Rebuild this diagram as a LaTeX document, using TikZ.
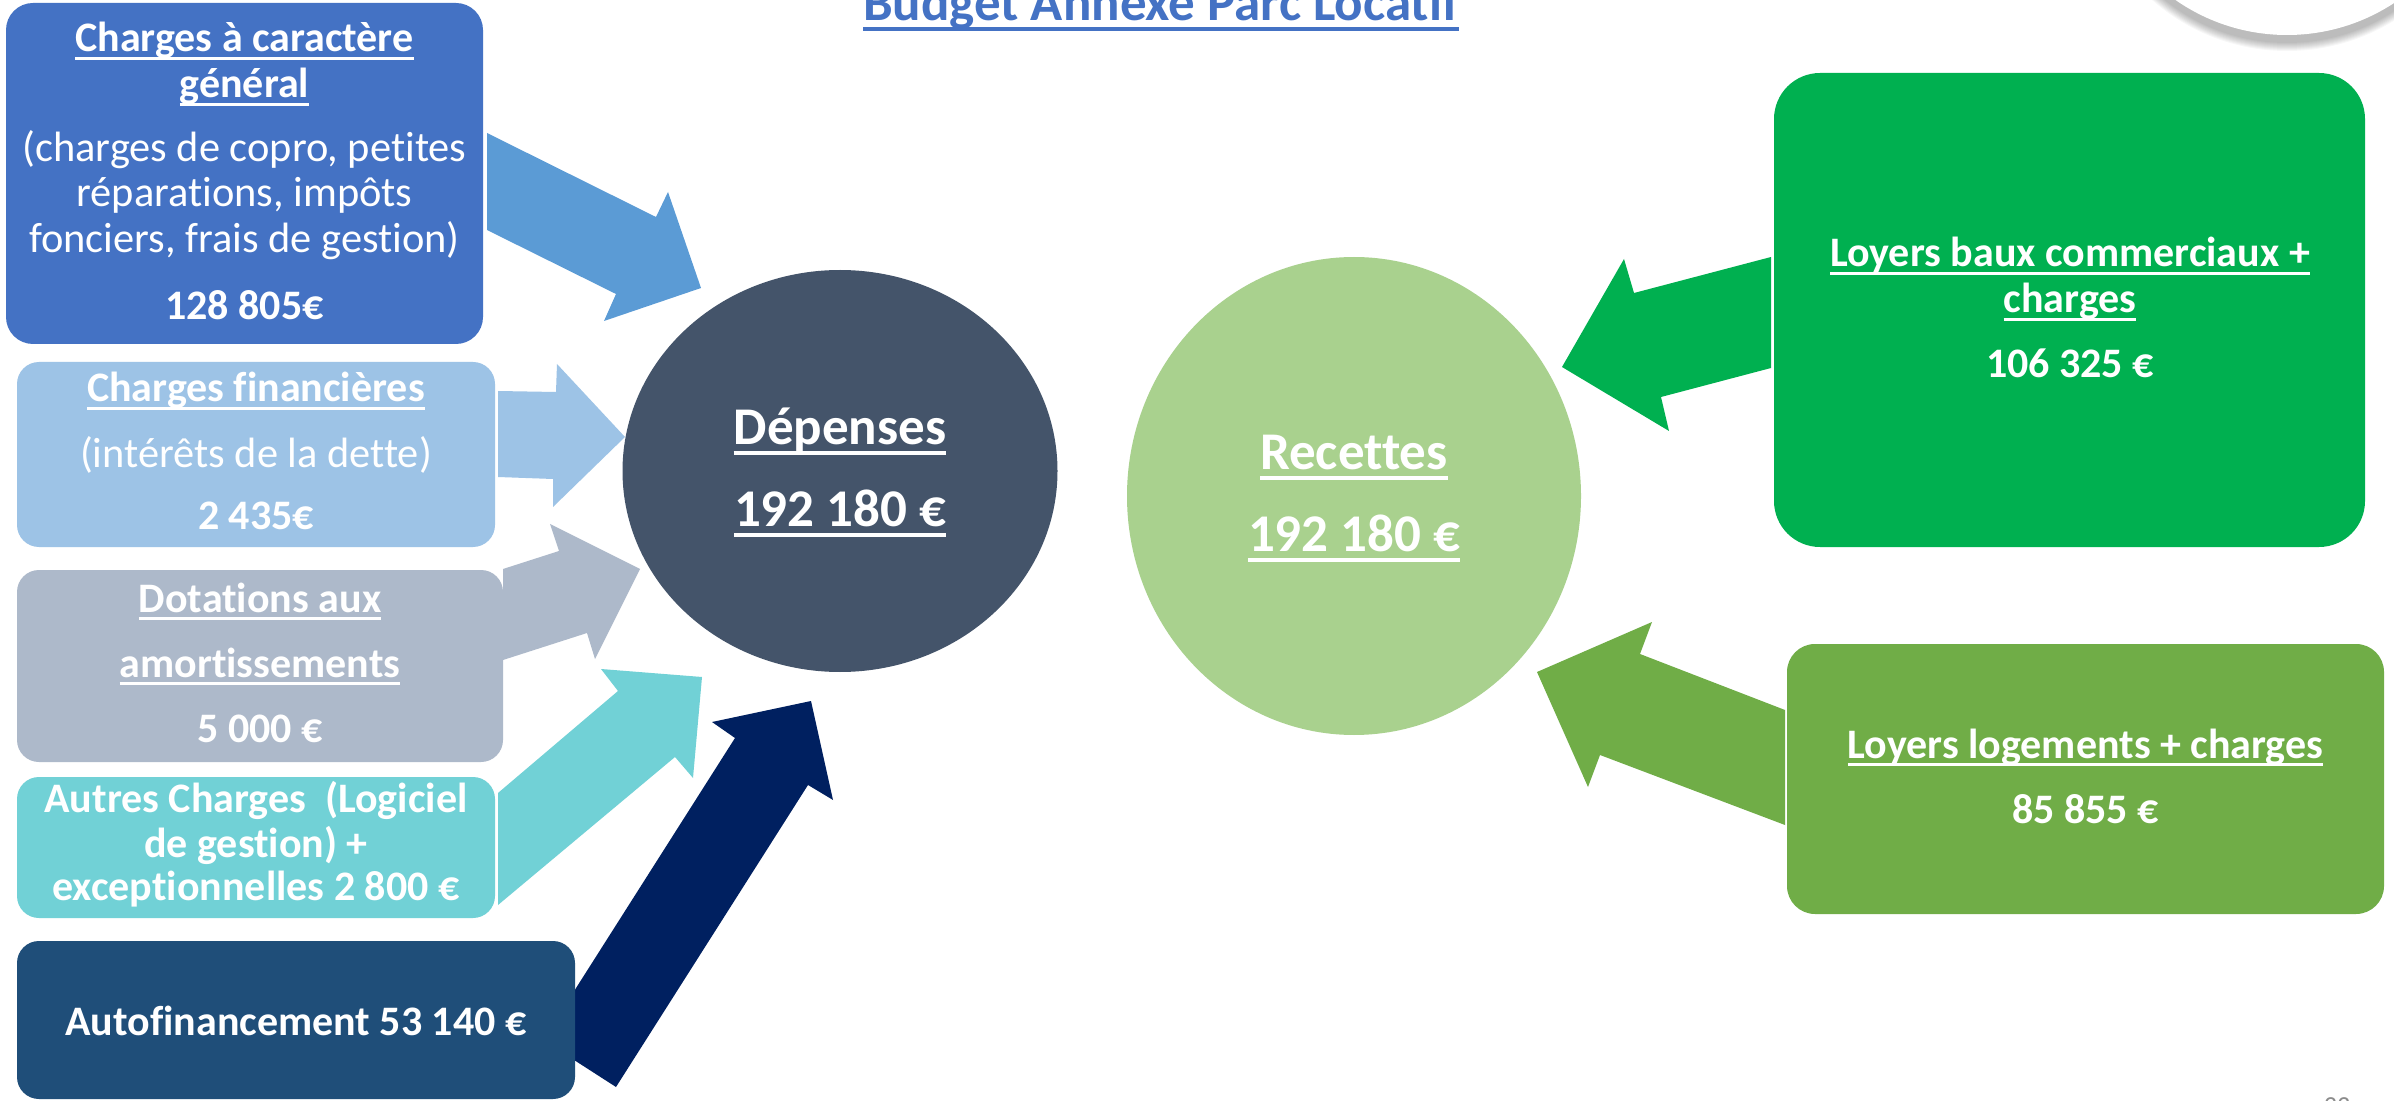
\documentclass[tikz,border=0pt]{standalone}
\usepackage{fontspec}
\setmainfont{Carlito}[Ligatures={NoCommon}]
\usetikzlibrary{shapes.geometric}
\definecolor{cGen}{HTML}{4472C4}
\definecolor{cGenArr}{HTML}{5B9BD5}
\definecolor{cFin}{HTML}{9DC3E6}
\definecolor{cDot}{HTML}{ADB9CA}
\definecolor{cAut}{HTML}{71D1D6}
\definecolor{cAuto}{HTML}{1F4E79}
\definecolor{cAutoArr}{HTML}{002060}
\definecolor{cDep}{HTML}{44546A}
\definecolor{cRec}{HTML}{A9D18E}
\definecolor{cCom}{HTML}{00B050}
\definecolor{cLog}{HTML}{70AD47}
\newcommand\myul[1]{\setbox0=\hbox{#1}\rlap{\rule[-0.185em]{\wd0}{0.07em}}\box0}
\begin{document}
\begin{tikzpicture}[x=0.5pt,y=-0.5pt,
  box/.style={rectangle, inner sep=0pt, draw=none},
  oval/.style={ellipse, inner sep=0pt, draw=none},
  tb/.style={anchor=base, text=white, inner sep=0pt, font=\fontsize{21}{25}\selectfont\bfseries},
  tr/.style={anchor=base, text=white, inner sep=0pt, font=\fontsize{21.2}{25}\selectfont},
  tbig/.style={anchor=base, text=white, inner sep=0pt, font=\fontsize{26.5}{30}\selectfont\bfseries}]
\useasboundingbox (0,0) rectangle (2394,1101);
\fill[white] (0,0) rectangle (2394,1101);

% decoration circle top right
\foreach \k in {1,...,9}{\pgfmathsetmacro\rr{205-\k}
  \fill[black, opacity=0.03] (2287,-153) circle[radius=\rr];}
\fill[white] (2287,-160) circle[radius=195];

% title
\node[tbig, text=cGen] (title) at (1161,21) {\myul{Budget Annexe Parc Locatif}};

% block arrows
\fill[cGenArr] (487,133) -- (656,217) -- (668,192) -- (701,288) -- (604,321) -- (616,294) -- (487,230) -- cycle;
\fill[cFin] (498,391) -- (556,392) -- (557,364) -- (625,437) -- (553,507) -- (553,479) -- (498,477) -- cycle;
\fill[cDot] (503,569) -- (559,551) -- (550,524) -- (640,569) -- (595,659) -- (587,633) -- (503,660) -- cycle;
\fill[cAut] (498,793) -- (618,691) -- (601,669) -- (702,677) -- (693,778) -- (675,757) -- (498,905) -- cycle;
\fill[cAutoArr] (543,1040) -- (735,738) -- (712,722) -- (811,701) -- (833,800) -- (808,785) -- (616,1087) -- cycle;
\fill[cCom] (1771,257) -- (1634,293) -- (1624,259) -- (1562,367) -- (1669,431) -- (1661,397) -- (1771,368) -- cycle;
\fill[cLog] (1785,710) -- (1640,654) -- (1652,622) -- (1537,672) -- (1588,787) -- (1600,755) -- (1785,825) -- cycle;

% boxes
\node[box, fill=cGen, minimum width=238.5pt, minimum height=170.5pt, rounded corners=13.5pt] (gen) at (244.5,173.5) {};
\node[box, fill=cFin, minimum width=239pt, minimum height=92.5pt, rounded corners=11pt] (fin) at (256,454.5) {};
\node[box, fill=cDot, minimum width=243pt, minimum height=96pt, rounded corners=11pt] (dot) at (260,666) {};
\node[box, fill=cAut, minimum width=239pt, minimum height=70.5pt, rounded corners=11pt] (aut) at (256,847.5) {};
\node[box, fill=cAuto, minimum width=279pt, minimum height=79pt, rounded corners=11pt] (auto) at (296,1020) {};
\node[box, fill=cCom, minimum width=295.5pt, minimum height=237pt, rounded corners=23pt] (com) at (2069.5,310) {};
\node[box, fill=cLog, minimum width=298.5pt, minimum height=135pt, rounded corners=14pt] (log) at (2085.5,779) {};

% ovals
\node[oval, fill=cDep, minimum width=217.5pt, minimum height=201pt] (dep) at (840,471) {};
\node[oval, fill=cRec, minimum width=227pt, minimum height=239pt] (rec) at (1354,496) {};

% texts: box 1
\node[tb] (gen1) at (244.5,52) {\myul{Charges à caractère}};
\node[tb] (gen2) at (244.5,98) {\myul{général}};
\node[tr] (gen3) at (244.5,162) {(charges de copro, petites};
\node[tr] (gen4) at (244.5,207) {réparations, impôts};
\node[tr] (gen5) at (244.5,253) {fonciers, frais de gestion)};
\node[tb] (gen6) at (244.5,320) {128 805€};
% box 2
\node[tb] (fin1) at (256,402) {\myul{Charges financières}};
\node[tr] (fin2) at (256,468) {(intérêts de la dette)};
\node[tb] (fin3) at (256,530) {2 435€};
% box 3
\node[tb] (dot1) at (260,612) {\myul{Dotations aux}};
\node[tb] (dot2) at (260,677) {\myul{amortissements}};
\node[tb] (dot3) at (260,742) {5 000 €};
% box 4
\node[tb] (aut1) at (256,812) {Autres Charges~ (Logiciel};
\node[tb] (aut2) at (256,857) {de gestion) +};
\node[tb] (aut3) at (256,900) {exceptionnelles 2 800 €};
% box 5
\node[tb] (auto1) at (296,1035) {Autofinancement 53 140 €};
% right boxes
\node[tb] (com1) at (2070,267) {\myul{Loyers baux commerciaux +}};
\node[tb] (com2) at (2070,313) {\myul{charges}};
\node[tb] (com3) at (2070,378) {106 325 €};
\node[tb] (log1) at (2085.5,758) {\myul{Loyers logements + charges}};
\node[tb] (log2) at (2085.5,823) {85 855 €};
% ovals
\node[tbig] (dep1) at (840,445) {\myul{Dépenses}};
\node[tbig] (dep2) at (840,527) {\myul{192 180 €}};
\node[tbig] (rec1) at (1354,470) {\myul{Recettes}};
\node[tbig] (rec2) at (1354,552) {\myul{192 180 €}};

% page number (cut off)
\node[anchor=north, inner sep=0pt, text=black!45, font=\fontsize{13}{15}\selectfont] (pnum) at (2337,1097) {33};
\end{tikzpicture}
\end{document}
